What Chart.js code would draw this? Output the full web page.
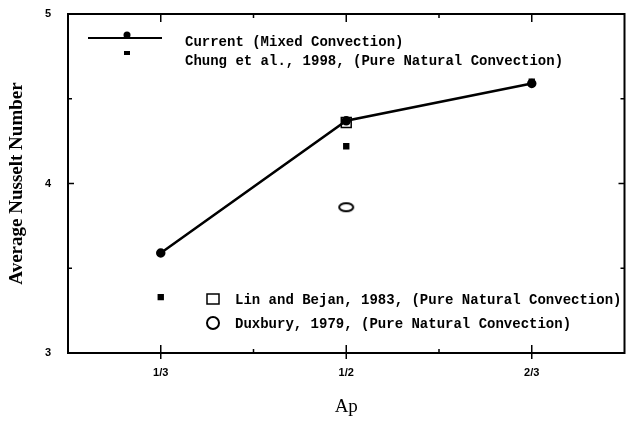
<!DOCTYPE html>
<html>
<head>
<meta charset="utf-8">
<script src="https://cdn.jsdelivr.net/npm/chart.js@4.4.0/dist/chart.umd.min.js"></script>
<style>
  html, body { margin: 0; padding: 0; background: #fff; }
</style>
</head>
<body>
<canvas id="grafico" width="633" height="424"></canvas>
<script>
// Datos
const categorias = ['1/3', '1/2', '2/3'];
const actual = [3.59, 4.37, 4.59];
const chung = [3.33, 4.22, 4.6];
const linBejan = [null, 4.36, null];
const duxbury = [null, 3.86, null];
const ticksY = [3, 4, 5];
const leyendaArriba = ['Current (Mixed Convection)', 'Chung et al., 1998, (Pure Natural Convection)'];
const leyendaAbajo = ['Lin and Bejan, 1983, (Pure Natural Convection)', 'Duxbury, 1979, (Pure Natural Convection)'];

const fuenteLeyenda = 'bold 14px "Liberation Mono"';

// Elipse abierta para Duxbury
function crearElipse() {
    const c = document.createElement('canvas');
    c.width = 18;
    c.height = 12;
    const g = c.getContext('2d');
    g.lineWidth = 2;
    g.strokeStyle = '#000';
    g.beginPath();
    g.ellipse(9, 6, 7, 4, 0, 0, Math.PI * 2);
    g.stroke();
    return c;
}
const elipse = crearElipse();

// Marco y marcas hacia adentro
const marco = {
    id: 'marco',
    afterDatasetsDraw(chart) {
        const ctx = chart.ctx;
        const a = chart.chartArea;
        const x = chart.scales.x;
        const y = chart.scales.y;
        ctx.save();
        ctx.strokeStyle = '#000';
        ctx.lineWidth = 2;
        ctx.strokeRect(a.left, a.top, a.right - a.left, a.bottom - a.top);
        ctx.lineWidth = 1.5;
        ctx.beginPath();
        const px = categorias.map((c, i) => x.getPixelForValue(i));
        px.forEach(p => {
            ctx.moveTo(p, a.bottom + 6); ctx.lineTo(p, a.bottom - 8);
            ctx.moveTo(p, a.top); ctx.lineTo(p, a.top + 8);
        });
        for (let i = 0; i < px.length - 1; i++) {
            const m = (px[i] + px[i + 1]) / 2;
            ctx.moveTo(m, a.bottom); ctx.lineTo(m, a.bottom - 4);
            ctx.moveTo(m, a.top); ctx.lineTo(m, a.top + 4);
        }
        for (let i = 0; i < ticksY.length - 1; i++) {
            const m = y.getPixelForValue((ticksY[i] + ticksY[i + 1]) / 2);
            ctx.moveTo(a.left, m); ctx.lineTo(a.left + 4, m);
            ctx.moveTo(a.right, m); ctx.lineTo(a.right - 4, m);
        }
        ticksY.slice(1, -1).forEach(v => {
            const m = y.getPixelForValue(v);
            ctx.moveTo(a.left, m); ctx.lineTo(a.left + 6, m);
            ctx.moveTo(a.right, m); ctx.lineTo(a.right - 6, m);
        });
        ctx.stroke();
        ctx.restore();
    }
};

// Leyenda dibujada a mano (arriba izquierda y abajo)
const leyenda = {
    id: 'leyenda',
    afterDraw(chart) {
        const ctx = chart.ctx;
        ctx.save();
        ctx.fillStyle = '#000';
        ctx.strokeStyle = '#000';
        // linea con punto
        ctx.lineWidth = 2;
        ctx.beginPath();
        ctx.moveTo(88, 38); ctx.lineTo(162, 38);
        ctx.stroke();
        ctx.beginPath();
        ctx.arc(127, 35, 3.5, 0, Math.PI * 2);
        ctx.fill();
        // cuadrado relleno pequeno
        ctx.fillRect(124, 51, 6, 4);
        // cuadrado abierto
        ctx.lineWidth = 1.5;
        ctx.strokeRect(207, 294, 12, 10);
        // circulo abierto
        ctx.lineWidth = 2;
        ctx.beginPath();
        ctx.arc(213, 323, 6, 0, Math.PI * 2);
        ctx.stroke();
        ctx.font = fuenteLeyenda;
        ctx.textBaseline = 'middle';
        ctx.fillText(leyendaArriba[0], 185, 42);
        ctx.fillText(leyendaArriba[1], 185, 61);
        ctx.fillText(leyendaAbajo[0], 235, 300);
        ctx.fillText(leyendaAbajo[1], 235, 324);
        ctx.restore();
    }
};

new Chart(document.getElementById('grafico'), {
    type: 'line',
    data: {
        labels: categorias,
        datasets: [{
            label: leyendaArriba[0],
            data: actual,
            borderColor: '#000',
            backgroundColor: '#000',
            borderWidth: 2.5,
            pointStyle: 'circle',
            pointRadius: 3.5
        }, {
            label: leyendaArriba[1],
            data: chung,
            showLine: false,
            pointStyle: 'rect',
            pointRadius: 4.5,
            borderWidth: 0,
            backgroundColor: '#000',
            borderColor: '#000'
        }, {
            label: leyendaAbajo[0],
            data: linBejan,
            showLine: false,
            pointStyle: 'rect',
            pointRadius: 7,
            borderWidth: 1.5,
            backgroundColor: 'rgba(0,0,0,0)',
            borderColor: '#000'
        }, {
            label: leyendaAbajo[1],
            data: duxbury,
            showLine: false,
            pointStyle: elipse,
            pointRadius: 7
        }]
    },
    options: {
        responsive: false,
        animation: false,
        devicePixelRatio: 1,
        layout: { padding: { top: 14, right: 3 } },
        plugins: {
            legend: { display: false },
            tooltip: { enabled: false }
        },
        scales: {
            x: {
                type: 'category',
                offset: true,
                grid: { display: false, drawTicks: false },
                border: { display: false },
                ticks: {
                    color: '#000',
                    padding: 13,
                    maxRotation: 0,
                    font: { family: 'Liberation Sans', weight: 'bold', size: 11 }
                },
                title: {
                    display: true,
                    text: 'Ap',
                    color: '#000',
                    padding: { top: 6, bottom: 6 },
                    font: { family: 'Liberation Serif', size: 19 }
                },
                afterFit(s) {
                    s.height = 71;
                    s.paddingLeft = 0;
                    s.paddingRight = 0;
                }
            },
            y: {
                min: 3,
                max: 5,
                afterBuildTicks(s) { s.ticks = ticksY.map(v => ({ value: v })); },
                grid: { display: false, drawTicks: false },
                border: { display: false },
                ticks: {
                    color: '#000',
                    padding: 17,
                    font: { family: 'Liberation Sans', weight: 'bold', size: 11 }
                },
                title: {
                    display: true,
                    text: 'Average Nusselt Number',
                    color: '#000',
                    padding: { top: 6, bottom: 0 },
                    font: { family: 'Liberation Serif', weight: 'bold', size: 19 }
                },
                afterFit(s) {
                    s.width = 68;
                    s.paddingTop = 0;
                    s.paddingBottom = 0;
                }
            }
        }
    },
    plugins: [marco, leyenda]
});
</script>
</body>
</html>
